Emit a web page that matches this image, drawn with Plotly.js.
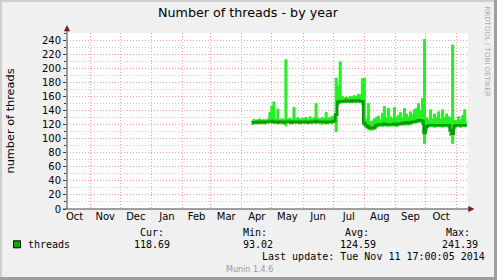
<!DOCTYPE html>
<html><head><meta charset="utf-8">
<script src="https://cdn.plot.ly/plotly-3.0.1.min.js"></script>
<style>html,body{margin:0;padding:0;background:#f0f0f0;}#chart{width:497px;height:280px;}</style>
</head><body><div id="chart"></div>
<script>
// ---- data ----
const startDate = '2014-04-11';
const stepDays = 2;
const avgThreads = [122,123,123,124,123,124,123,124,124,124,125,124,124,123,124,124,123,124,124,124,
  123,124,124,124,123,124,124,124,123,124,124,124,125,124,124,124,124,123,124,124,
  124,125,134,152,153,153,153,154,153,153,154,153,154,154,153,153,122,119,117,115,
  115,116,119,120,120,120,121,120,120,120,120,121,120,121,121,122,122,123,122,123,
  124,124,125,126,126,125,108,117,119,119,119,119,119,119,119,119,119,119,119,112,
  107,118,119,119,119,119,119,118.69];
const maxThreads = [125,127,126,127,128,126,127,126,128,137,146,152,128,142,127,128,127,212,128,129,
  127,144,128,130,127,129,128,130,127,131,128,130,150,129,128,130,129,137,129,130,
  132,131,186,175,209,160,158,159,158,160,159,161,160,163,162,185,186,128,150,124,
  125,128,130,132,127,136,146,130,143,131,129,144,130,133,137,130,143,135,131,138,
  134,141,143,150,140,157,241,130,127,141,128,135,130,138,128,141,130,135,131,130,
  233,126,125,131,127,133,141,124];
const minThreads = [120,121,121,121,121,122,121,121,122,122,122,121,122,121,122,121,121,118,122,121,
  121,122,121,122,121,122,121,122,121,122,121,122,121,122,121,120,122,121,121,122,
  121,123,110,148,150,151,151,151,152,151,151,152,151,152,151,148,118,115,113,112,
  112,113,116,117,118,117,118,118,117,118,118,118,117,118,119,119,119,120,119,120,
  121,122,122,123,123,120,93,112,117,117,117,116,117,117,117,116,117,117,116,104,
  93,114,117,117,116,117,117,117];
const seriesName = 'threads';
const statLabels = ['Cur:', 'Min:', 'Avg:', 'Max:'];
const statValues = ['118.69', '93.02', '124.59', '241.39'];
const lastUpdate = 'Tue Nov 11 17:00:05 2014';
const titleText = 'Number of threads - by year';
const yTitle = 'number of threads';

// ---- derived x values (one sample every stepDays) ----
const t0 = Date.parse(startDate + 'T00:00:00Z');
const dates = avgThreads.map((_, i) => new Date(t0 + i * stepDays * 86400000).toISOString().slice(0, 10));

// ---- pixel helpers for decoration ----
const W = 497, H = 280, L = 67, R = 468, T = 33, B = 209;
const px = x => (x - L) / (R - L);
const py = y => (B - y) / (B - T);

const light = '#22f022', dark = '#0a9a0a', legendGreen = '#00b000';
const mono = 'DejaVu Sans Mono', sans = 'DejaVu Sans';

const traces = [
  {x: dates, y: minThreads, type: 'scatter', mode: 'lines', line: {color: light, width: 1, shape: 'hvh'}, hoverinfo: 'skip', showlegend: false},
  {x: dates, y: maxThreads, type: 'scatter', mode: 'lines', fill: 'tonexty', fillcolor: light, line: {color: light, width: 1, shape: 'hvh'}, hoverinfo: 'skip', showlegend: false},
  {x: dates, y: avgThreads, type: 'scatter', mode: 'lines', name: seriesName, line: {color: dark, width: 2.6, shape: 'hvh'}, hoverinfo: 'skip', showlegend: false}
];

const ann = [];
const statLabelX = [151.5, 254.5, 356.5, 458];
const statValueX = [152, 258, 357.5, 459.5];
statLabels.forEach((s, i) => ann.push({text: s, xref: 'paper', yref: 'paper', x: px(statLabelX[i]), y: py(233), xanchor: 'center', yanchor: 'middle', showarrow: false, font: {family: mono, size: 10, color: '#000'}}));
statValues.forEach((s, i) => ann.push({text: s, xref: 'paper', yref: 'paper', x: px(statValueX[i]), y: py(244.3), xanchor: 'center', yanchor: 'middle', showarrow: false, font: {family: mono, size: 10, color: '#000'}}));
ann.push({text: seriesName, xref: 'paper', yref: 'paper', x: px(26), y: py(244.3), xanchor: 'left', yanchor: 'middle', showarrow: false, font: {family: mono, size: 10, color: '#000'}});
ann.push({text: 'Last update: ' + lastUpdate, xref: 'paper', yref: 'paper', x: px(260), y: py(256), xanchor: 'left', yanchor: 'middle', showarrow: false, font: {family: mono, size: 10, color: '#000'}});
ann.push({text: 'Munin 1.4.6', xref: 'paper', yref: 'paper', x: px(249), y: py(269), xanchor: 'center', yanchor: 'middle', showarrow: false, font: {family: sans, size: 8, color: '#999'}});
ann.push({text: 'RRDTOOL / TOBI OETIKER', xref: 'paper', yref: 'paper', x: px(486.5), y: py(51), xanchor: 'center', yanchor: 'middle', textangle: 90, showarrow: false, font: {family: sans, size: 7, color: '#aaa'}});

const axisCol = '#444', arrowCol = '#7f1a1a';
const shapes = [
  // frame
  {type: 'rect', xref: 'paper', yref: 'paper', x0: px(0), x1: px(2), y0: py(0), y1: py(H), fillcolor: '#cfcfcf', line: {width: 0}},
  {type: 'rect', xref: 'paper', yref: 'paper', x0: px(0), x1: px(W), y0: py(0), y1: py(2), fillcolor: '#cfcfcf', line: {width: 0}},
  {type: 'rect', xref: 'paper', yref: 'paper', x0: px(494), x1: px(W), y0: py(0), y1: py(H), fillcolor: '#9e9e9e', line: {width: 0}},
  {type: 'rect', xref: 'paper', yref: 'paper', x0: px(0), x1: px(W), y0: py(277), y1: py(H), fillcolor: '#9e9e9e', line: {width: 0}},
  // axes
  {type: 'line', xref: 'paper', yref: 'paper', x0: px(67), x1: px(67), y0: py(209), y1: py(30), line: {color: axisCol, width: 1}},
  {type: 'line', xref: 'paper', yref: 'paper', x0: px(63), x1: px(469), y0: py(209), y1: py(209), line: {color: axisCol, width: 1}},
  {type: 'path', xref: 'paper', yref: 'paper', path: `M ${px(64.3)} ${py(31)} L ${px(69.7)} ${py(31)} L ${px(67)} ${py(25.5)} Z`, fillcolor: arrowCol, line: {color: arrowCol, width: 0.5}},
  {type: 'path', xref: 'paper', yref: 'paper', path: `M ${px(468.5)} ${py(206.3)} L ${px(468.5)} ${py(211.7)} L ${px(474)} ${py(209)} Z`, fillcolor: arrowCol, line: {color: arrowCol, width: 0.5}},
  // legend swatch
  {type: 'rect', xref: 'paper', yref: 'paper', x0: px(13.5), x1: px(20.5), y0: py(240.8), y1: py(247.8), fillcolor: legendGreen, line: {color: '#000', width: 1}}
];

const layout = {
  width: W, height: H,
  margin: {l: L, r: W - R, t: T, b: H - B, pad: 0},
  paper_bgcolor: '#f0f0f0', plot_bgcolor: '#ffffff',
  showlegend: false,
  title: {text: titleText, x: 248 / W, xref: 'container', xanchor: 'center', y: 1 - 12.8 / H, yref: 'container', yanchor: 'middle', font: {family: sans, size: 12.7, color: '#000'}},
  xaxis: {
    type: 'date', range: ['2013-10-09', '2014-11-12 06:00'],
    dtick: 'M1', tick0: '2013-11-01', ticklabelmode: 'period', tickformat: '%b',
    showgrid: true, gridcolor: '#f2a0a0', griddash: '1px,2px', gridwidth: 1,
    showline: false, zeroline: false, ticks: '',
    tickfont: {family: sans, size: 10, color: '#000'}, fixedrange: true
  },
  yaxis: {
    range: [0, 250], dtick: 20, tick0: 0,
    showgrid: true, gridcolor: '#f2a0a0', griddash: '1px,2px', gridwidth: 1,
    minor: {dtick: 10, showgrid: true, gridcolor: '#cccccc', griddash: '1px,2px', ticks: 'outside', ticklen: 2, tickcolor: axisCol},
    ticks: 'outside', ticklen: 3, tickcolor: axisCol, tickwidth: 1,
    showline: false, zeroline: false,
    tickfont: {family: sans, size: 10, color: '#000'},
    title: {text: yTitle, font: {family: sans, size: 11.3, color: '#000'}, standoff: 24},
    automargin: false, fixedrange: true
  },
  annotations: ann,
  shapes: shapes
};

Plotly.newPlot('chart', traces, layout, {displayModeBar: false, staticPlot: true});
</script>
</body></html>
